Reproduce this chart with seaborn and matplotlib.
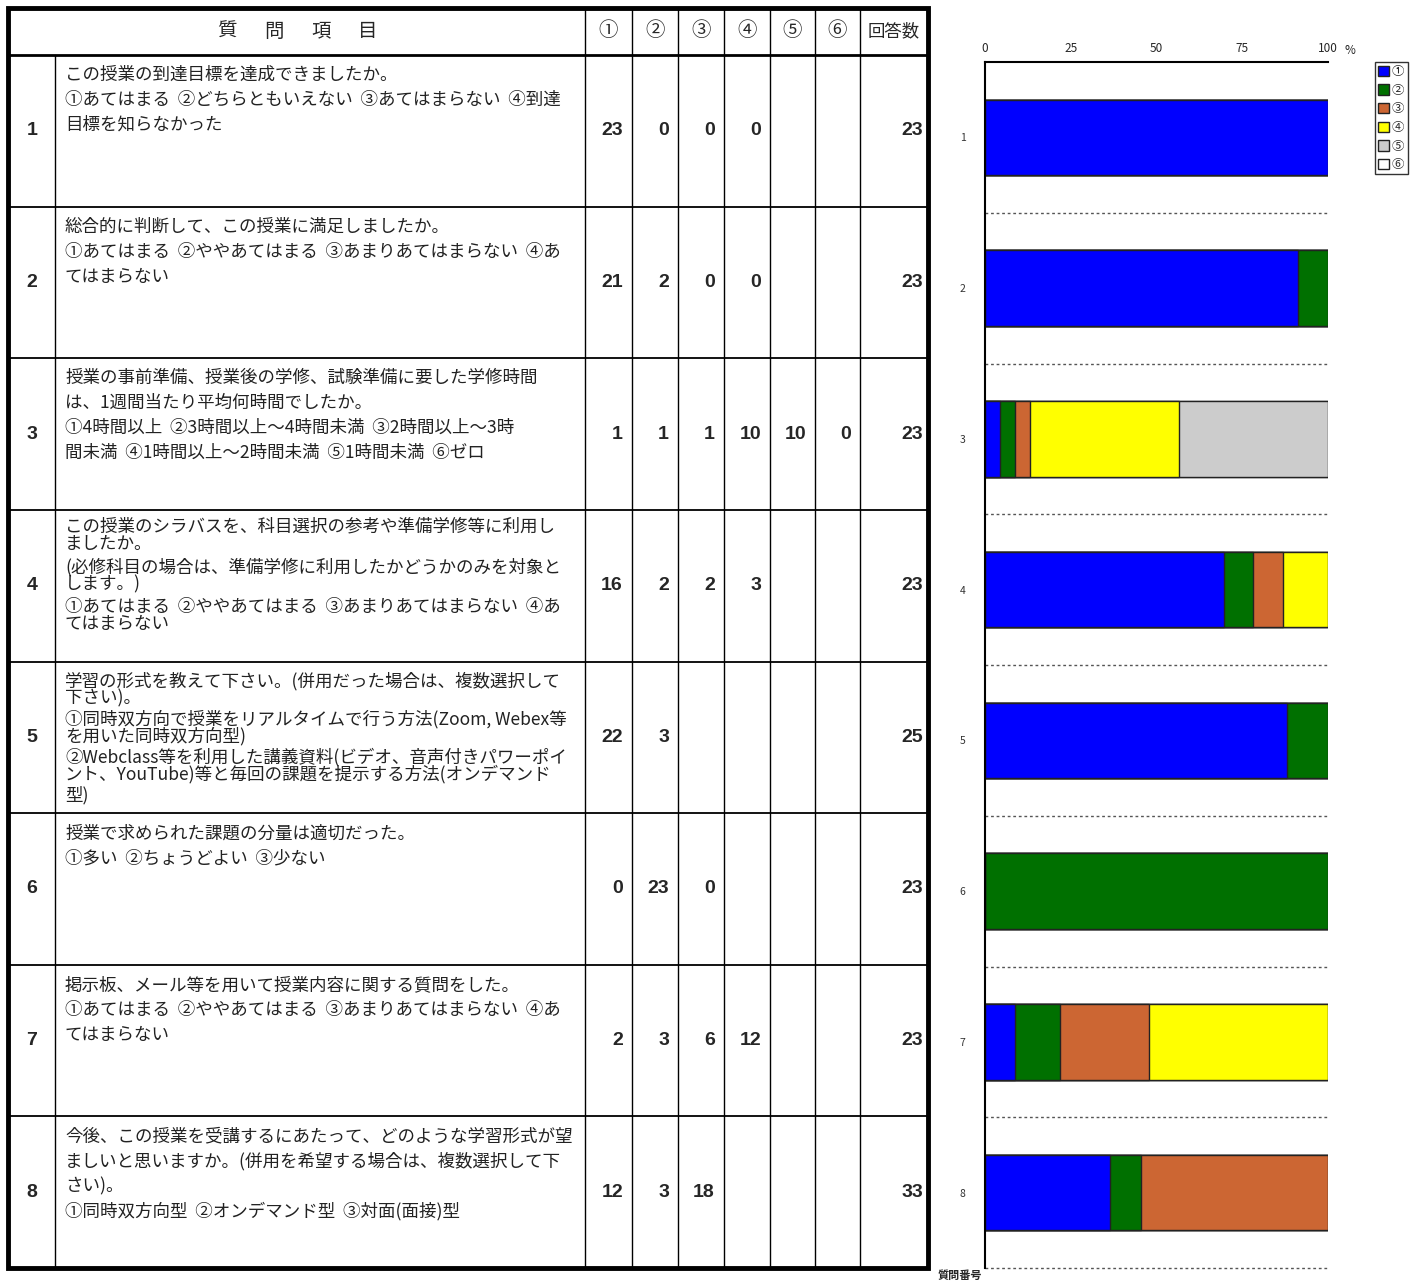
import numpy as np
import pandas as pd
import matplotlib
matplotlib.use("Agg")
import matplotlib.pyplot as plt
from matplotlib.patches import Patch, Rectangle
import seaborn as sns

sns.set_style("white")
plt.rcParams["font.family"] = ["Noto Sans CJK JP", "DejaVu Sans"]

# data
questions = ["1", "2", "3", "4", "5", "6", "7", "8"]
answer_labels = ["①", "②", "③", "④", "⑤", "⑥"]
c1 = [23, 21, 1, 16, 22, 0, 2, 12]
c2 = [0, 2, 1, 2, 3, 23, 3, 3]
c3 = [0, 0, 1, 2, None, 0, 6, 18]
c4 = [0, 0, 10, 3, None, None, 12, None]
c5 = [None, None, 10, None, None, None, None, None]
c6 = [None, None, 0, None, None, None, None, None]
totals = [23, 23, 23, 23, 25, 23, 23, 33]

question_text = [
    ["この授業の到達目標を達成できましたか。",
     "①あてはまる  ②どちらともいえない  ③あてはまらない  ④到達",
     "目標を知らなかった"],
    ["総合的に判断して、この授業に満足しましたか。",
     "①あてはまる  ②ややあてはまる  ③あまりあてはまらない  ④あ",
     "てはまらない"],
    ["授業の事前準備、授業後の学修、試験準備に要した学修時間",
     "は、1週間当たり平均何時間でしたか。",
     "①4時間以上  ②3時間以上～4時間未満  ③2時間以上～3時",
     "間未満  ④1時間以上～2時間未満  ⑤1時間未満  ⑥ゼロ"],
    ["この授業のシラバスを、科目選択の参考や準備学修等に利用し",
     "ましたか。",
     "(必修科目の場合は、準備学修に利用したかどうかのみを対象と",
     "します。)",
     "①あてはまる  ②ややあてはまる  ③あまりあてはまらない  ④あ",
     "てはまらない"],
    ["学習の形式を教えて下さい。(併用だった場合は、複数選択して",
     "下さい)。",
     "①同時双方向で授業をリアルタイムで行う方法(Zoom, Webex等",
     "を用いた同時双方向型)",
     "②Webclass等を利用した講義資料(ビデオ、音声付きパワーポイ",
     "ント、YouTube)等と毎回の課題を提示する方法(オンデマンド",
     "型)"],
    ["授業で求められた課題の分量は適切だった。",
     "①多い  ②ちょうどよい  ③少ない"],
    ["掲示板、メール等を用いて授業内容に関する質問をした。",
     "①あてはまる  ②ややあてはまる  ③あまりあてはまらない  ④あ",
     "てはまらない"],
    ["今後、この授業を受講するにあたって、どのような学習形式が望",
     "ましいと思いますか。(併用を希望する場合は、複数選択して下",
     "さい)。",
     "①同時双方向型  ②オンデマンド型  ③対面(面接)型"],
]

colors = ["#0000FF", "#007000", "#CC6633", "#FFFF00", "#CCCCCC", "#FFFFFF"]

counts = pd.DataFrame({lab: col for lab, col in
                       zip(answer_labels, [c1, c2, c3, c4, c5, c6])},
                      index=questions)
pct = counts.fillna(0).div(totals, axis=0) * 100

fig = plt.figure(figsize=(14.24, 12.82), dpi=100)

# ---- table (pixel coordinates) ----
tab = fig.add_axes([0, 0, 1, 1])
tab.set_xlim(0, 1424)
tab.set_ylim(1282, 0)
tab.axis("off")

col_edges = [8, 55, 585, 632, 678, 724, 770, 815, 860, 928]
row_edges = np.linspace(55, 1268, len(questions) + 1)
tight_offsets = {3: [17, 34, 57, 75, 97, 114],
                 4: [20, 37, 58, 75, 96, 113, 134]}

tab.plot([8, 928], [55, 55], color="black", lw=2)
for y in row_edges[1:-1]:
    tab.plot([8, 928], [y, y], color="black", lw=1.3)
tab.plot([55, 55], [55, 1268], color="black", lw=1)
for x in col_edges[2:-1]:
    tab.plot([x, x], [8, 1268], color="black", lw=1)
tab.add_patch(Rectangle((8, 8), 920, 1260, fill=False, lw=3.5,
                        edgecolor="black"))

for j, ch in enumerate("質問項目"):
    tab.text(227 + 47 * j, 31, ch, ha="center", va="center", fontsize=14)
for j, lab in enumerate(answer_labels):
    tab.text((col_edges[2 + j] + col_edges[3 + j]) / 2, 31, lab,
             ha="center", va="center", fontsize=14)
tab.text(894, 31, "回答数", ha="center", va="center", fontsize=12.5)

num_font = dict(family=["Liberation Sans", "DejaVu Sans"], weight="bold",
                fontsize=14)
for i, q in enumerate(questions):
    top = row_edges[i]
    mid = (row_edges[i] + row_edges[i + 1]) / 2
    tab.text(32, mid, q, ha="center", va="center", **num_font)
    offs = tight_offsets.get(i, [20 + 25 * j for j in range(len(question_text[i]))])
    for line, off in zip(question_text[i], offs):
        tab.text(65, top + off, line, ha="left", va="center", fontsize=12.6,
                 color="#222222")
    for k, lab in enumerate(answer_labels):
        v = counts.loc[q, lab]
        if pd.notna(v):
            tab.text(col_edges[3 + k] - 9, mid, str(int(v)), ha="right",
                     va="center", **num_font)
    tab.text(923, mid, str(totals[i]), ha="right", va="center", **num_font)

# ---- stacked bar chart ----
ax = fig.add_axes([985 / 1424, 1 - 1268 / 1282, 343 / 1424, 1206 / 1282])
for k in reversed(range(len(answer_labels))):
    cum = pct.iloc[:, :k + 1].sum(axis=1).values
    sns.barplot(x=cum, y=questions, order=questions, orient="h",
                color=colors[k], saturation=1, width=0.5, errorbar=None,
                edgecolor="#222222", linewidth=1, ax=ax)

ax.set_xlim(0, 100)
ax.set_ylim(len(questions) - 0.5, -0.5)
ax.hlines(np.arange(len(questions)) + 0.5, 0, 100, colors="#555555",
          linestyles=(0, (2, 2)), linewidth=1, clip_on=False)
ax.xaxis.tick_top()
ax.set_xticks([0, 25, 50, 75, 100])
ax.tick_params(axis="x", length=0, pad=5, labelsize=8.5)
ax.tick_params(axis="y", length=0, pad=14, labelsize=7.5, labelcolor="#333333")
ax.set_xlabel("")
ax.set_ylabel("")
for s in ["right", "bottom"]:
    ax.spines[s].set_visible(False)
for s in ["left", "top"]:
    ax.spines[s].set_color("black")
    ax.spines[s].set_linewidth(1.5)

fig.text(1350 / 1424, 1 - 50 / 1282, "%", ha="center", va="center",
         fontsize=8.5)
fig.text(938 / 1424, 1 - 1275 / 1282, "質問番号", ha="left", va="center",
         fontsize=8, weight="bold")

handles = [Patch(facecolor=c, edgecolor="#222222", label=l)
           for c, l in zip(colors, answer_labels)]
fig.legend(handles=handles, loc="upper left",
           bbox_to_anchor=(1375 / 1424, 1 - 62 / 1282), fontsize=9,
           frameon=True, fancybox=False, edgecolor="black",
           handlelength=0.9, handleheight=0.9, handletextpad=0.2,
           labelspacing=0.45, borderpad=0.25, borderaxespad=0)

fig.savefig("out.png", dpi=100)
